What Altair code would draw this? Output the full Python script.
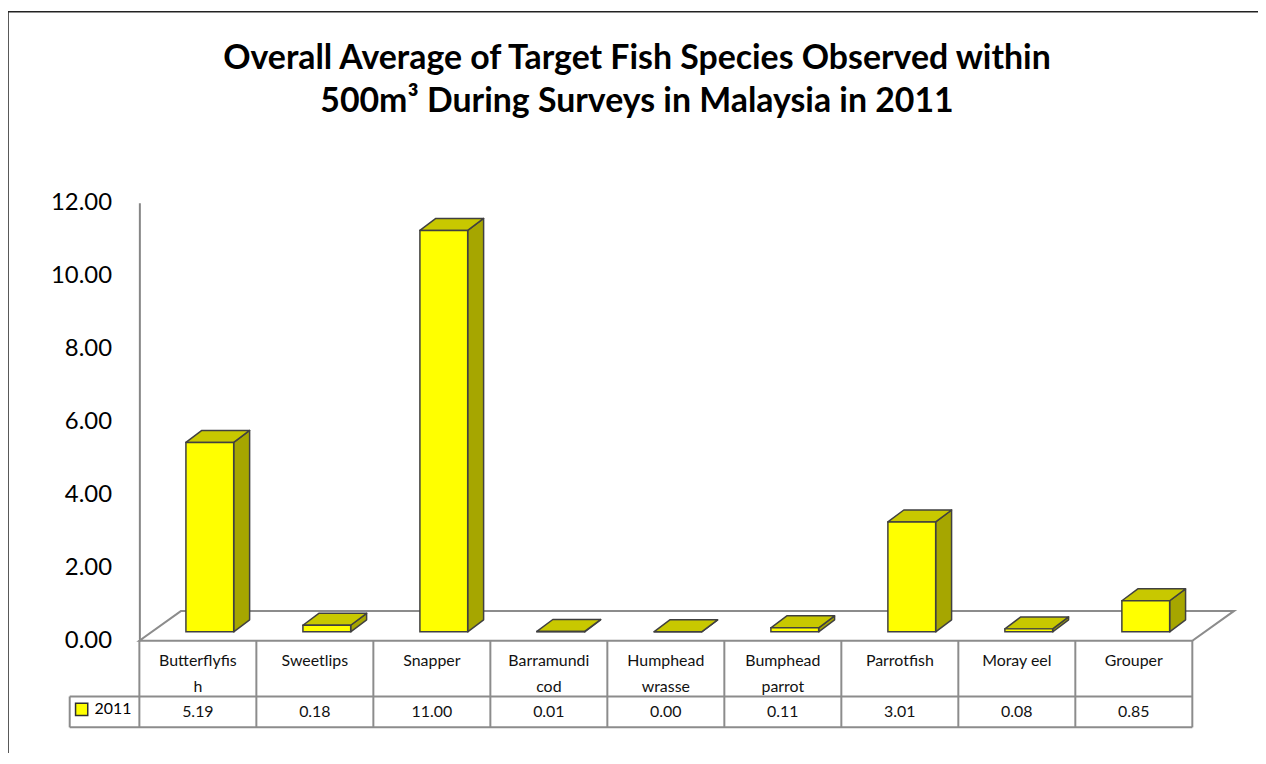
import altair as alt
import pandas as pd

# ---------------- data ----------------
categories = ["Butterflyfish", "Sweetlips", "Snapper", "Barramundi cod",
              "Humphead wrasse", "Bumphead parrot", "Parrotfish", "Moray eel", "Grouper"]
header_labels = ["Butterflyfis\nh", "Sweetlips", "Snapper", "Barramundi\ncod",
                 "Humphead\nwrasse", "Bumphead\nparrot", "Parrotfish", "Moray eel", "Grouper"]
values = [5.19, 0.18, 11.00, 0.01, 0.00, 0.11, 3.01, 0.08, 0.85]
series_name = "2011"
y_ticks = [0, 2, 4, 6, 8, 10, 12]
title_lines = ["Overall Average of Target Fish Species Observed within",
               "500m\u00b3 During Surveys in Malaysia in 2011"]

# ---------------- geometry / style ----------------
W, H = 1058, 440            # plot area (front plane of the 3-D box)
Y_MAX = 12
N = len(categories)
UX = W / N                  # px per category unit
UY = H / Y_MAX              # px per value unit
BAR_W, BAR_SHIFT, BAR_LIFT = 48, 12, 9
DEPTH_DX, DEPTH_DY = 16, 12
FLOOR_DX, FLOOR_DY = 42, 30
LEGEND_W = 70

FONT = "Lato"
FRONT, TOP, SIDE, EDGE = "#FFFF00", "#C8C800", "#A6A600", "#404040"
GRID = "#8C8C8C"

rows_front, rows_side, rows_top = [], [], []
dx, dy = DEPTH_DX / UX, DEPTH_DY / UY
for i, (c, v) in enumerate(zip(categories, values)):
    cx = i + 0.5
    xl = cx + (BAR_SHIFT - BAR_W / 2) / UX
    xr = cx + (BAR_SHIFT + BAR_W / 2) / UX
    yb = BAR_LIFT / UY
    yt = v + yb
    rows_front.append(dict(cat=c, series=series_name, xl=xl, xr=xr, yb=yb, yt=yt))
    rows_side.append(dict(cat=c, x=xr, ylo=yb, yhi=yt))
    rows_side.append(dict(cat=c, x=xr + dx, ylo=yb + dy, yhi=yt + dy))
    rows_top.append(dict(cat=c, y=yt, xa=xl, xb=xr))
    rows_top.append(dict(cat=c, y=yt + dy, xa=xl + dx, xb=xr + dx))

df_front = pd.DataFrame(rows_front)
df_side = pd.DataFrame(rows_side)
df_top = pd.DataFrame(rows_top)
df_floor = pd.DataFrame(dict(y=[0, FLOOR_DY / UY], xa=[0, FLOOR_DX / UX],
                             xb=[N, N + FLOOR_DX / UX]))
df_table = pd.DataFrame(dict(cat=categories, label=header_labels, value=values,
                             cx=[i + 0.5 for i in range(N)]))
df_vlines = pd.DataFrame(dict(x=list(range(N + 1))))
df_one = pd.DataFrame(dict(a=[0]))
df_title = pd.DataFrame(dict(t=["\n".join(title_lines)]))

xscale = alt.Scale(domain=[0, N], nice=False, zero=False)
yscale = alt.Scale(domain=[0, Y_MAX], nice=False, zero=False)
yaxis = alt.Axis(values=y_ticks, format=".2f", labelFont=FONT, labelFontSize=24,
                 labelColor="#000000", domainColor="#868686", domainWidth=2,
                 ticks=False, grid=False, labelPadding=28, title=None)


def X(f):
    return alt.X(f, type="quantitative", scale=xscale, axis=None)


def X2(f):
    return alt.X2(f)


def Y(f):
    return alt.Y(f, type="quantitative", scale=yscale, axis=yaxis)


floor = alt.Chart(df_floor).mark_area(orient="horizontal", fill="white", stroke=GRID,
                                      strokeWidth=2).encode(
    y=Y("y"), x=X("xa"), x2=X2("xb"))

side = alt.Chart(df_side).mark_area(orient="vertical", fill=SIDE, stroke=EDGE,
                                    strokeWidth=1.5, strokeJoin="round").encode(
    x=X("x"), y=Y("yhi"), y2=alt.Y2("ylo"), detail="cat:N")

top = alt.Chart(df_top).mark_area(orient="horizontal", fill=TOP, stroke=EDGE,
                                  strokeWidth=1.5, strokeJoin="round").encode(
    y=Y("y"), x=X("xa"), x2=X2("xb"), detail="cat:N")

front = alt.Chart(df_front).mark_rect(stroke=EDGE, strokeWidth=1.5).encode(
    x=X("xl"), x2=X2("xr"), y=Y("yt"), y2=alt.Y2("yb"),
    color=alt.Color("series:N", scale=alt.Scale(domain=[series_name], range=[FRONT]),
                    legend=alt.Legend(title=None, orient="none", legendX=-66, legendY=501,
                                      symbolType="square", symbolSize=150,
                                      symbolStrokeColor="#303030", symbolStrokeWidth=1.5,
                                      labelFont=FONT, labelFontSize=16, labelColor="#000",
                                      labelOffset=5, padding=0)),
    tooltip=[alt.Tooltip("cat:N")])

# table grid
vlines = alt.Chart(df_vlines).mark_rule(color=GRID, strokeWidth=2).encode(
    x=X("x"), y=alt.value(H), y2=alt.value(H + 87))
hlines = alt.Chart(pd.DataFrame(dict(y=[H + 56, H + 87]))).mark_rule(
    color=GRID, strokeWidth=2).encode(
    x=alt.value(-LEGEND_W), x2=alt.value(W), y=alt.Y("y:Q", scale=None, axis=None))
legend_left = alt.Chart(df_one).mark_rule(color=GRID, strokeWidth=2).encode(
    x=alt.value(-LEGEND_W), y=alt.value(H + 56), y2=alt.value(H + 87))

header_text = alt.Chart(df_table).mark_text(font=FONT, fontSize=16, lineBreak="\n",
                                            baseline="top", lineHeight=26,
                                            color="#111").encode(
    x=X("cx"), y=alt.value(H + 12), text="label:N")
value_text = alt.Chart(df_table).mark_text(font=FONT, fontSize=16, baseline="middle",
                                           color="#111").encode(
    x=X("cx"), y=alt.value(H + 72), text=alt.Text("value:Q", format=".2f"))

title = alt.Chart(df_title).mark_text(font=FONT, fontSize=34, fontWeight="bold",
                                      lineBreak="\n", lineHeight=43, baseline="middle",
                                      align="center", color="#000").encode(
    x=alt.value(500), y=alt.value(-144), text="t:N")

frame = alt.Chart(df_one).mark_rect(fill=None, stroke="#222222", strokeWidth=1.5).encode(
    x=alt.value(-132), x2=alt.value(1200), y=alt.value(-192), y2=alt.value(700))

chart = alt.layer(frame, floor, side, top, front, vlines, hlines, legend_left,
                  header_text, value_text, title).properties(
    width=W, height=H,
    padding={"left": 132, "top": 194, "right": 66, "bottom": 111},
    autosize=alt.AutoSizeParams(type="none"),
    background="white",
).configure_view(strokeWidth=0, stroke=None)

chart.save("out.html", embed_options={"renderer": "svg", "actions": False})
